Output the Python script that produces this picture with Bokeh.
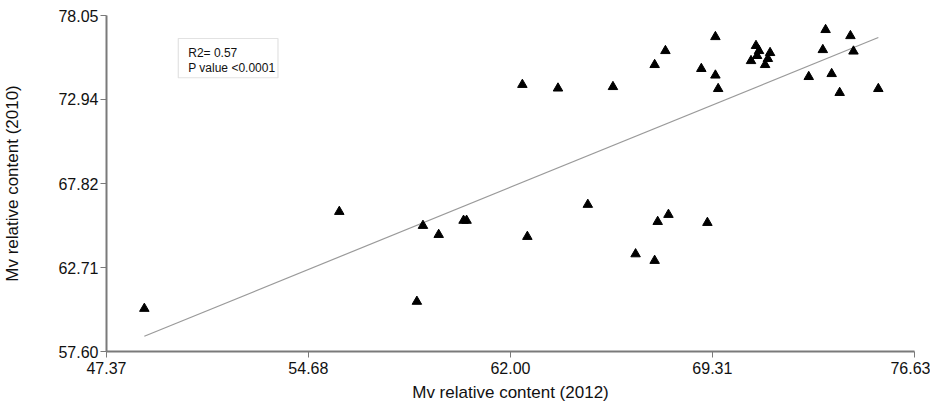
from bokeh.plotting import figure
from bokeh.models import FixedTicker, PrintfTickFormatter, Range1d, BoxAnnotation, Label
from bokeh.embed import file_html
from bokeh.resources import INLINE

# Mv relative content, 2012 (x) vs 2010 (y)
x_2012 = [48.74, 55.80, 58.83, 58.61, 59.40, 60.30, 60.41, 62.61, 64.80,
          66.53, 67.22, 67.33, 67.72, 69.13,
          62.43, 63.72, 65.71, 67.22, 67.61, 69.42, 68.91, 69.42, 69.52,
          70.89, 71.00, 70.93, 70.71, 71.40, 71.32, 71.22,
          72.80, 73.31, 73.41, 73.63, 73.92, 74.31, 74.42, 75.32]
y_2010 = [60.21, 66.11, 65.26, 60.64, 64.71, 65.57, 65.57, 64.59, 66.54,
          63.53, 63.13, 65.50, 65.93, 65.44,
          73.84, 73.62, 73.71, 75.05, 75.90, 76.75, 74.81, 74.41, 73.59,
          76.21, 75.90, 75.60, 75.29, 75.78, 75.42, 75.05,
          74.32, 75.96, 77.18, 74.50, 73.35, 76.81, 75.87, 73.59]

# regression line end points
fit_x = [48.74, 75.32]
fit_y = [58.53, 76.71]

x_ticks = [47.37, 54.68, 62.00, 69.31, 76.63]
y_ticks = [57.60, 62.71, 67.82, 72.94, 78.05]

stats_lines = ["R2= 0.57", "P value <0.0001"]

FONT = "Liberation Sans"

p = figure(width=930, height=404, output_backend="svg", toolbar_location=None,
           x_range=Range1d(x_ticks[0], x_ticks[-1]),
           y_range=Range1d(y_ticks[0], y_ticks[-1]),
           min_border_left=102, min_border_right=16,
           min_border_top=15, min_border_bottom=53)
p.outline_line_color = None
p.grid.visible = False
p.background_fill_color = "white"

for ax, ticks, lab in ((p.xaxis, x_ticks, "Mv relative content (2012)"),
                       (p.yaxis, y_ticks, "Mv relative content (2010)")):
    ax.ticker = FixedTicker(ticks=ticks)
    ax.formatter = PrintfTickFormatter(format="%.2f")
    ax.minor_tick_line_color = None
    ax.major_tick_in = 0
    ax.major_tick_out = 6
    ax.axis_line_color = "#7a7a7a"
    ax.axis_line_width = 2
    ax.major_tick_line_color = "#7a7a7a"
    ax.major_tick_line_width = 1
    ax.major_label_text_font = FONT
    ax.major_label_text_font_size = "16px"
    ax.major_label_text_color = "#111111"
    ax.axis_label = lab
    ax.axis_label_text_font = FONT
    ax.axis_label_text_font_size = "17px"
    ax.axis_label_text_font_style = "normal"
    ax.axis_label_text_color = "#111111"

p.yaxis.major_label_standoff = 2
p.xaxis.major_label_standoff = 4
p.yaxis.axis_label_standoff = 33
p.xaxis.axis_label_standoff = 6

p.line(fit_x, fit_y, line_color="#9a9a9a", line_width=1.2)
p.scatter(x_2012, y_2010, marker="triangle", size=9.5,
          fill_color="black", line_color="black")

box = BoxAnnotation(left=49.97, right=53.58, bottom=74.26, top=76.65,
                    fill_color="white", fill_alpha=1.0,
                    line_color="#a0a0a0", line_width=1.2)
p.add_layout(box)
for txt, yb in zip(stats_lines, (75.74, 74.87)):
    p.add_layout(Label(x=50.33, y=yb, text=txt, text_font=FONT,
                       text_font_size="12px", text_color="#111111",
                       text_baseline="alphabetic"))

open("out.html", "w").write(file_html(p, INLINE))
